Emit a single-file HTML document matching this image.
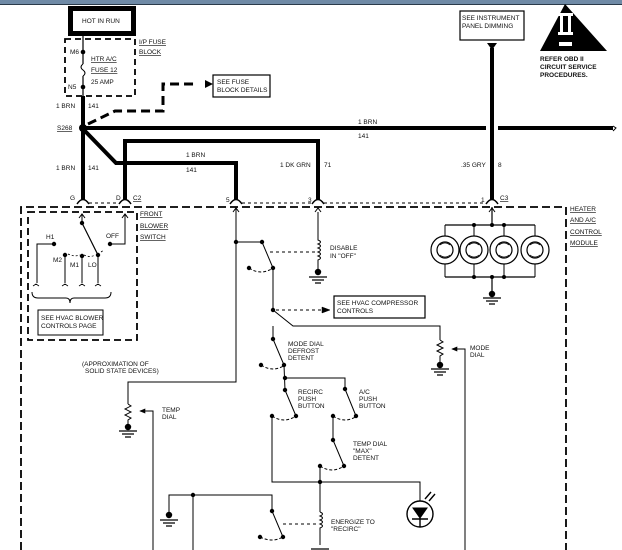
<!DOCTYPE html>
<html><head><meta charset="utf-8"><style>
html,body{margin:0;padding:0;background:#fff;}
svg{display:block;}
text{font-family:"Liberation Sans",sans-serif;font-size:6.5px;fill:#111;}
</style></head><body>
<svg width="622" height="550" viewBox="0 0 622 550" xmlns="http://www.w3.org/2000/svg">
<rect x="0" y="0" width="622" height="4" fill="#6f8aa6"/>
<line x1="0" y1="4.5" x2="622" y2="4.5" stroke="#2a3a4a" stroke-width="1"/>
<g stroke="#000" fill="none" stroke-linecap="butt">
<!-- HOT IN RUN -->
<rect x="70.5" y="8.5" width="63" height="25" stroke-width="5"/>
<!-- fuse block -->
<rect x="65" y="39" width="70" height="57" stroke-width="1.8" stroke-dasharray="6,4"/>
<line x1="83" y1="34" x2="83" y2="64" stroke-width="1.2"/>
<path d="M83 64 q-4 3 0 6 q4 3 0 6" stroke-width="1"/>
<line x1="83" y1="76" x2="83" y2="96" stroke-width="1.2"/>
<line x1="83" y1="96" x2="83" y2="200" stroke-width="4"/>
<!-- dashed arrow to fuse block details -->
<path d="M88 124 L115 111 L163 111 L163 84 L196 84" stroke-width="3" stroke-dasharray="9,5"/>
<rect x="213" y="75" width="57" height="22" stroke-width="1.2"/>
<!-- main horizontal -->
<line x1="86" y1="128" x2="486" y2="128" stroke-width="4"/>
<line x1="498" y1="128" x2="613" y2="128" stroke-width="4"/>
<path d="M613 126 l3 2 l-3 3" stroke-width="1"/>
<!-- diagonal branch -->
<path d="M84 130 L116 163 L236 163 L236 200" stroke-width="4"/>
<path d="M125 200 L125 141 L318 141 L318 200" stroke-width="4"/>
<!-- instrument panel -->
<rect x="460" y="11" width="64" height="29" stroke-width="1.2"/>
<line x1="492" y1="48" x2="492" y2="200" stroke-width="4"/>
<!-- connectors -->
<path d="M77 204 q6 -9 12 0 M119 204 q6 -9 12 0 M230 204 q6 -9 12 0 M312 204 q6 -9 12 0 M486 204 q6 -9 12 0" stroke-width="1.5"/>
<line x1="89" y1="203" x2="119" y2="203" stroke-width="1" stroke-dasharray="3,3"/>
<line x1="242" y1="203" x2="312" y2="203" stroke-width="1" stroke-dasharray="3,3"/>
<line x1="324" y1="203" x2="486" y2="203" stroke-width="1" stroke-dasharray="3,3"/>
<!-- module border -->
<path d="M21 550 L21 207 L566 207 L566 550" stroke-width="1.8" stroke-dasharray="8,4"/>
<!-- blower switch box -->
<rect x="28" y="212" width="109" height="128" stroke-width="1.8" stroke-dasharray="7,4"/>
<path d="M79 218 l3 -4 l3 4 M122 218 l3 -4 l3 4 M82 214 L82 223 M125 214 L125 244 L110 244" stroke-width="1"/>
<line x1="82" y1="223" x2="98" y2="255" stroke-width="1.2"/>
<path d="M54 244 L37 244 L37 283 M65 255 L65 283 M82 256 L82 283 M98 256 L98 283" stroke-width="1"/>
<path d="M33 286 l3 -2 l3 2 M62 286 l3 -2 l3 2 M79 286 l3 -2 l3 2 M95 286 l3 -2 l3 2" stroke-width="0.8"/>
<path d="M68 254 q6 3 12 1 M84 255 q6 3 11 0 M101 252 l3 -2" stroke-width="0.8" stroke-dasharray="2,2"/>
<path d="M32 292 q0 6 6 6 L66 298 q4 0 4 5 q0 -5 4 -5 L105 298 q6 0 6 -6" stroke-width="1"/>
<rect x="38" y="310" width="65" height="25" stroke-width="1"/>
<!-- center chain -->
<path d="M236 207 L236 382 L128 382 L128 404" stroke-width="1"/>
<path d="M233 212 l3 -4 l3 4 M315 212 l3 -4 l3 4 M489 212 l3 -4 l3 4" stroke-width="1"/>
<path d="M128 404 l3 2 l-6 3 l6 3 l-6 3 l6 3 l-3 2 L128 425" stroke-width="1"/>
<path d="M153 550 L153 411 L140 411" stroke-width="1"/>
<path d="M140 411 l5 -2 l0 4 z" fill="#000" stroke-width="0.6"/>
<path d="M236 242 L262 242 L273 268 L273 310 L293 326 L440 326 L440 340" stroke-width="1"/>
<path d="M440 340 l3 2 l-6 3 l6 3 l-6 3 l6 3 l-3 2 L440 363" stroke-width="1"/>
<path d="M465 550 L465 349 L452 349" stroke-width="1"/>
<path d="M452 349 l5 -2 l0 4 z" fill="#000" stroke-width="0.6"/>
<path d="M249 268 q12 8 24 0" stroke-width="1" stroke-dasharray="3,2"/>
<line x1="270" y1="252" x2="318" y2="252" stroke-width="1" stroke-dasharray="3,3"/>
<line x1="276" y1="310" x2="322" y2="310" stroke-width="1" stroke-dasharray="3,3"/>
<path d="M330 310 l-8 -3 l0 6 z" fill="#000" stroke-width="0.5"/>
<rect x="334" y="296" width="91" height="22" stroke-width="1.2"/>
<path d="M273 326 L273 339 L284 365 L285 390 L296 416" stroke-width="1"/>
<path d="M261 365 q12 8 24 0 M272 416 q12 8 24 0 M333 416 q12 8 24 0 M320 466 q12 8 24 0" stroke-width="1" stroke-dasharray="3,2"/>
<path d="M285 378 L345 378 L345 389 L356 416" stroke-width="1"/>
<path d="M333 416 L333 440 L344 466" stroke-width="1"/>
<path d="M320 466 L320 512 M272 416 L272 482 L420 482 L420 501" stroke-width="1"/>
<path d="M320 512 q5 2 0 4 q5 2 0 4 q5 2 0 4 q5 2 0 4 L320 545" stroke-width="1"/>
<line x1="283" y1="524" x2="318" y2="524" stroke-width="1" stroke-dasharray="3,3"/>
<!-- LED -->
<circle cx="420" cy="514" r="13" stroke-width="1.4"/>
<path d="M413 508 L427 508 L420 518 Z" fill="#000" stroke-width="1"/>
<path d="M412 519 L428 519 M420 518 L420 527" stroke-width="1.4"/>
<path d="M425 499 l6 -7 M429 501 l6 -7" stroke-width="1.4"/>
<!-- bottom left -->
<path d="M169 512 L169 495 L272 495 L272 511 L283 537 M193 495 L193 550" stroke-width="1"/>
<path d="M260 537 q12 6 23 0" stroke-width="1" stroke-dasharray="3,2"/>
<!-- disable coil -->
<path d="M318 212 L318 240 q5 2 0 4 q5 2 0 4 q5 2 0 4 q5 2 0 4 q5 2 0 4 L318 270" stroke-width="1"/>
<!-- lamps -->
<path d="M492 207 L492 225 M445 225 L535 225 M445 277 L535 277 M492 277 L492 292" stroke-width="1.2"/>
<path d="M445 225 L445 236 M474 225 L474 236 M504 225 L504 236 M535 225 L535 236 M445 264 L445 277 M474 264 L474 277 M504 264 L504 277 M535 264 L535 277" stroke-width="1"/>
<g stroke-width="1.2">
<circle cx="445" cy="250" r="14"/><circle cx="474" cy="250" r="14"/><circle cx="504" cy="250" r="14"/><circle cx="535" cy="250" r="14"/>
<circle cx="445" cy="250" r="8"/><circle cx="474" cy="250" r="8"/><circle cx="504" cy="250" r="8"/><circle cx="535" cy="250" r="8"/>
</g>
<path d="M440 245 q5 -4 10 0 M440 255 q5 4 10 0 M469 245 q5 -4 10 0 M469 255 q5 4 10 0 M499 245 q5 -4 10 0 M499 255 q5 4 10 0 M530 245 q5 -4 10 0 M530 255 q5 4 10 0" stroke-width="0.8"/>
<!-- grounds -->
<g stroke-width="1.2">
<path d="M309 277 h18 M312 280 h12 M315 283 h6"/>
<path d="M483 298 h18 M486 301 h12 M489 304 h6"/>
<path d="M431 369 h18 M434 372 h12 M437 375 h6"/>
<path d="M119 431 h18 M122 434 h12 M125 437 h6"/>
<path d="M160 520 h18 M163 523 h12 M166 526 h6"/>
<path d="M311 549 h18"/>
</g>
</g>
<!-- triangles -->
<path d="M487 43 L497 43 L492 50 Z" fill="#000"/>
<path d="M565 4 L607 51 L540 51 Z" fill="#000"/>
<rect x="558" y="13" width="15" height="3" fill="#fff"/>
<rect x="558" y="32" width="15" height="3" fill="#fff"/>
<rect x="560" y="16" width="3" height="16" fill="#fff"/>
<rect x="568" y="16" width="3" height="16" fill="#fff"/>
<rect x="559" y="42" width="13" height="4" fill="#fff"/>
<!-- dots -->
<g fill="#000">
<circle cx="83" cy="52" r="2.3"/><circle cx="83" cy="87" r="2.3"/><circle cx="83" cy="128" r="4"/>
<circle cx="82" cy="223" r="2.2"/><circle cx="98" cy="255" r="2.2"/><circle cx="54" cy="244" r="2.2"/><circle cx="65" cy="255" r="2.2"/><circle cx="82" cy="256" r="2.2"/><circle cx="110" cy="244" r="2.2"/>
<circle cx="236" cy="242" r="2.2"/><circle cx="262" cy="242" r="2.2"/><circle cx="249" cy="268" r="2.2"/><circle cx="273" cy="268" r="2.2"/>
<circle cx="273" cy="310" r="2.2"/><circle cx="273" cy="339" r="2.2"/><circle cx="261" cy="365" r="2.2"/><circle cx="284" cy="365" r="2.2"/>
<circle cx="285" cy="378" r="2.2"/><circle cx="285" cy="390" r="2.2"/><circle cx="296" cy="416" r="2.2"/><circle cx="272" cy="416" r="2.2"/>
<circle cx="345" cy="389" r="2.2"/><circle cx="356" cy="416" r="2.2"/><circle cx="333" cy="416" r="2.2"/><circle cx="333" cy="440" r="2.2"/>
<circle cx="344" cy="466" r="2.2"/><circle cx="320" cy="466" r="2.2"/><circle cx="320" cy="482" r="2.2"/>
<circle cx="193" cy="495" r="2.2"/><circle cx="272" cy="511" r="2.2"/><circle cx="283" cy="537" r="2.2"/><circle cx="260" cy="537" r="2.2"/>
<circle cx="474" cy="225" r="2"/><circle cx="492" cy="225" r="2"/><circle cx="504" cy="225" r="2"/><circle cx="474" cy="277" r="2"/><circle cx="492" cy="277" r="2"/><circle cx="504" cy="277" r="2"/>
<circle cx="318" cy="272" r="3.2"/><circle cx="492" cy="294" r="3.2"/><circle cx="440" cy="365" r="3.2"/><circle cx="128" cy="427" r="3.2"/><circle cx="169" cy="515" r="3.2"/>
</g>
<path d="M205 80 L213 84 L205 88 Z" fill="#000"/>
<!-- labels -->
<text x="82" y="23">HOT IN RUN</text>
<text x="70" y="54">M6</text><text x="68" y="89">N5</text>
<text x="91" y="61" text-decoration="underline">HTR A/C</text>
<text x="91" y="72" text-decoration="underline">FUSE 12</text>
<text x="91" y="84">25 AMP</text>
<text x="139" y="44" text-decoration="underline">I/P FUSE</text>
<text x="139" y="54" text-decoration="underline">BLOCK</text>
<text x="217" y="84">SEE FUSE</text><text x="217" y="92">BLOCK DETAILS</text>
<text x="56" y="108">1 BRN</text><text x="88" y="108">141</text>
<text x="57" y="130" text-decoration="underline">S268</text>
<text x="56" y="170">1 BRN</text><text x="88" y="170">141</text>
<text x="186" y="157">1 BRN</text><text x="186" y="172">141</text>
<text x="280" y="167">1 DK GRN</text><text x="324" y="167">71</text>
<text x="358" y="124">1 BRN</text><text x="358" y="138">141</text>
<text x="462" y="20">SEE INSTRUMENT</text><text x="462" y="28">PANEL DIMMING</text>
<text x="461" y="167">.35 GRY</text><text x="498" y="167">8</text>
<text x="540" y="61" font-weight="bold">REFER  OBD II</text>
<text x="540" y="69" font-weight="bold">CIRCUIT SERVICE</text>
<text x="540" y="77" font-weight="bold">PROCEDURES.</text>
<text x="70" y="200">G</text><text x="116" y="200">D</text><text x="133" y="200" text-decoration="underline">C2</text>
<text x="226" y="202">5</text><text x="308" y="202">3</text><text x="481" y="202">1</text><text x="500" y="200" text-decoration="underline">C3</text>
<text x="140" y="216" text-decoration="underline">FRONT</text><text x="140" y="228" text-decoration="underline">BLOWER</text><text x="140" y="239" text-decoration="underline">SWITCH</text>
<text x="570" y="211" text-decoration="underline">HEATER</text><text x="570" y="222" text-decoration="underline">AND A/C</text><text x="570" y="234" text-decoration="underline">CONTROL</text><text x="570" y="245" text-decoration="underline">MODULE</text>
<text x="46" y="239">H1</text><text x="53" y="262">M2</text><text x="70" y="267">M1</text><text x="88" y="267">LO</text><text x="106" y="238">OFF</text>
<text x="41" y="320">SEE HVAC BLOWER</text><text x="41" y="328">CONTROLS PAGE</text>
<text x="330" y="250">DISABLE</text><text x="330" y="258">IN "OFF"</text>
<text x="337" y="305">SEE HVAC COMPRESSOR</text><text x="337" y="313">CONTROLS</text>
<text x="288" y="346">MODE DIAL</text><text x="288" y="353">DEFROST</text><text x="288" y="360">DETENT</text>
<text x="298" y="394">RECIRC</text><text x="298" y="401">PUSH</text><text x="298" y="408">BUTTON</text>
<text x="359" y="394">A/C</text><text x="359" y="401">PUSH</text><text x="359" y="408">BUTTON</text>
<text x="353" y="446">TEMP DIAL</text><text x="353" y="453">"MAX"</text><text x="353" y="460">DETENT</text>
<text x="331" y="524">ENERGIZE TO</text><text x="331" y="531">"RECIRC"</text>
<text x="470" y="350">MODE</text><text x="470" y="357">DIAL</text>
<text x="162" y="412">TEMP</text><text x="162" y="419">DIAL</text>
<text x="82" y="366">(APPROXIMATION OF</text><text x="85" y="373">SOLID STATE DEVICES)</text>
</svg>
</body></html>
